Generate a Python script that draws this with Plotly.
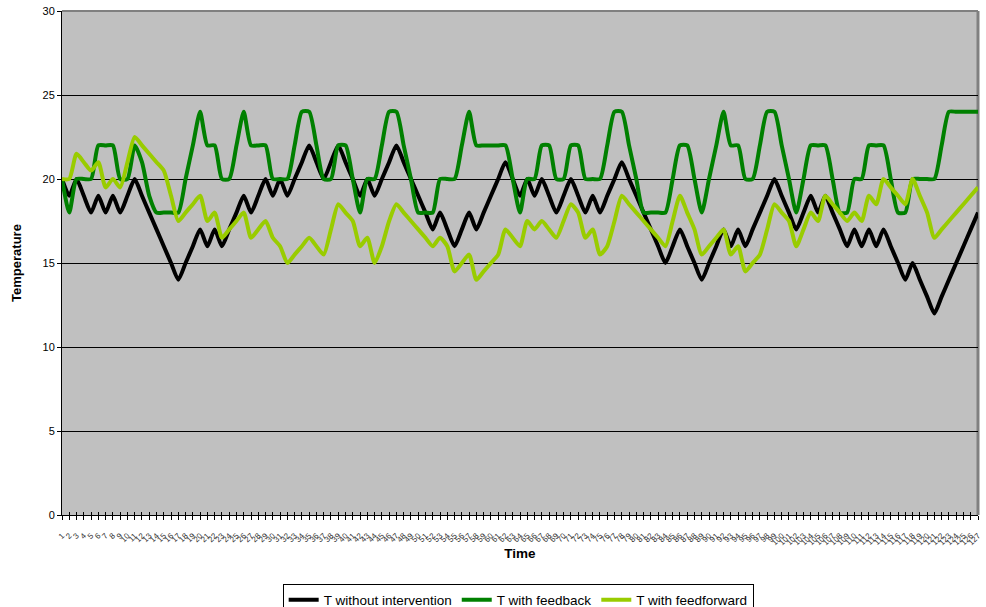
import plotly.graph_objects as go

time = list(range(1, 128))
tick_labels = [str(t) for t in time]

t_without = [20, 19, 20, 19, 18, 19, 18, 19, 18, 19,
             20, 19, 18, 17, 16, 15, 14, 15, 16, 17,
             16, 17, 16, 17, 18, 19, 18, 19, 20, 19,
             20, 19, 20, 21, 22, 21, 20, 21, 22, 21,
             20, 19, 20, 19, 20, 21, 22, 21, 20, 19,
             18, 17, 18, 17, 16, 17, 18, 17, 18, 19,
             20, 21, 20, 19, 20, 19, 20, 19, 18, 19,
             20, 19, 18, 19, 18, 19, 20, 21, 20, 19,
             18, 17, 16, 15, 16, 17, 16, 15, 14, 15,
             16, 17, 16, 17, 16, 17, 18, 19, 20, 19,
             18, 17, 18, 19, 18, 19, 18, 17, 16, 17,
             16, 17, 16, 17, 16, 15, 14, 15, 14, 13,
             12, 13, 14, 15, 16, 17, 18]

t_feedback = [20, 18, 20, 20, 20, 22, 22, 22, 20, 20,
              22, 21, 19, 18, 18, 18, 18, 20, 22, 24,
              22, 22, 20, 20, 22, 24, 22, 22, 22, 20,
              20, 20, 22, 24, 24, 22, 20, 20, 22, 22,
              20, 18, 20, 20, 22, 24, 24, 22, 20, 18,
              18, 18, 20, 20, 20, 22, 24, 22, 22, 22,
              22, 22, 20, 18, 20, 20, 22, 22, 20, 20,
              22, 22, 20, 20, 20, 22, 24, 24, 22, 20,
              18, 18, 18, 18, 20, 22, 22, 20, 18, 20,
              22, 24, 22, 22, 20, 20, 22, 24, 24, 22,
              20, 18, 20, 22, 22, 22, 20, 18, 18, 20,
              20, 22, 22, 22, 20, 18, 18, 20, 20, 20,
              20, 22, 24, 24, 24, 24, 24]

t_feedforward = [20, 20, 21.5, 21, 20.5, 21, 19.5, 20, 19.5, 21,
                 22.5, 22, 21.5, 21, 20.5, 19, 17.5, 18, 18.5, 19,
                 17.5, 18, 16.5, 17, 17.5, 18, 16.5, 17, 17.5, 16.5,
                 16, 15, 15.5, 16, 16.5, 16, 15.5, 17, 18.5, 18,
                 17.5, 16, 16.5, 15, 16, 17.5, 18.5, 18, 17.5, 17,
                 16.5, 16, 16.5, 16, 14.5, 15, 15.5, 14, 14.5, 15,
                 15.5, 17, 16.5, 16, 17.5, 17, 17.5, 17, 16.5, 17.5,
                 18.5, 18, 16.5, 17, 15.5, 16, 17.5, 19, 18.5, 18,
                 17.5, 17, 16.5, 16, 17.5, 19, 18, 17, 15.5, 16,
                 16.5, 17, 15.5, 16, 14.5, 15, 15.5, 17, 18.5, 18,
                 17.5, 16, 17, 18, 17.5, 19, 18.5, 18, 17.5, 18,
                 17.5, 19, 18.5, 20, 19.5, 19, 18.5, 20, 19, 18,
                 16.5, 17, 17.5, 18, 18.5, 19, 19.5]

series = [
    ("T without intervention", t_without, "#000000"),
    ("T with feedback", t_feedback, "#008000"),
    ("T with feedforward", t_feedforward, "#99CC00"),
]

FONT = "Arial, 'Liberation Sans', sans-serif"

fig = go.Figure()
for name, vals, color in series:
    fig.add_trace(go.Scatter(
        x=time, y=vals, name=name, mode="lines",
        line=dict(color=color, width=4, shape="spline", smoothing=0.6),
    ))

# helper invisible trace to activate second x axis (crossing tick marks)
fig.add_trace(go.Scatter(x=[time[0]], y=[0], xaxis="x2", mode="lines",
                         showlegend=False, hoverinfo="skip",
                         line=dict(width=0)))

fig.update_layout(
    width=986, height=607,
    margin=dict(l=62, r=8, t=11, b=92, autoexpand=False),
    paper_bgcolor="white",
    plot_bgcolor="#C0C0C0",
    font=dict(family=FONT, color="black"),
    showlegend=True,
    legend=dict(
        orientation="h", x=0.498, xanchor="center", y=-0.136, yanchor="top",
        bordercolor="black", borderwidth=1, bgcolor="white",
        font=dict(size=13.5, family=FONT), itemwidth=30,
        tracegroupgap=0,
    ),
    xaxis=dict(
        range=[time[0], time[-1]], automargin=False,
        tickmode="array", tickvals=time, ticktext=tick_labels,
        tickangle=-45, tickfont=dict(size=8, color="#333333"),
        ticklabelstandoff=8,
        ticks="outside", ticklen=4, tickcolor="black",
        showline=True, linecolor="black", linewidth=1,
        showgrid=False, zeroline=False,
        title=dict(text="<b>Time</b>", font=dict(size=13.5), standoff=2),
    ),
    xaxis2=dict(
        overlaying="x", range=[time[0], time[-1]], automargin=False,
        tickmode="array", tickvals=time, ticks="inside", ticklen=3,
        tickcolor="black", showticklabels=False,
        showgrid=False, zeroline=False, showline=False, side="bottom",
    ),
    yaxis=dict(
        range=[0, 30], tickmode="linear", tick0=0, dtick=5, automargin=False,
        ticks="outside", ticklen=4, tickcolor="black",
        tickfont=dict(size=11),
        showline=True, linecolor="black", linewidth=1,
        showgrid=True, gridcolor="black", gridwidth=1,
        zeroline=False,
        title=dict(text="<b>Temperature</b>", font=dict(size=13), standoff=17),
    ),
    shapes=[
        dict(type="line", xref="paper", yref="paper", x0=0, x1=1, y0=1, y1=1,
             line=dict(color="#808080", width=2), layer="below"),
        dict(type="line", xref="paper", yref="paper", x0=1, x1=1, y0=0, y1=1,
             line=dict(color="#808080", width=3), layer="below"),
    ],
)

fig.write_html(
    "out.html",
    config={"displayModeBar": False, "staticPlot": True},
    post_script="document.body.style.margin='0';document.body.style.overflow='hidden';",
)
